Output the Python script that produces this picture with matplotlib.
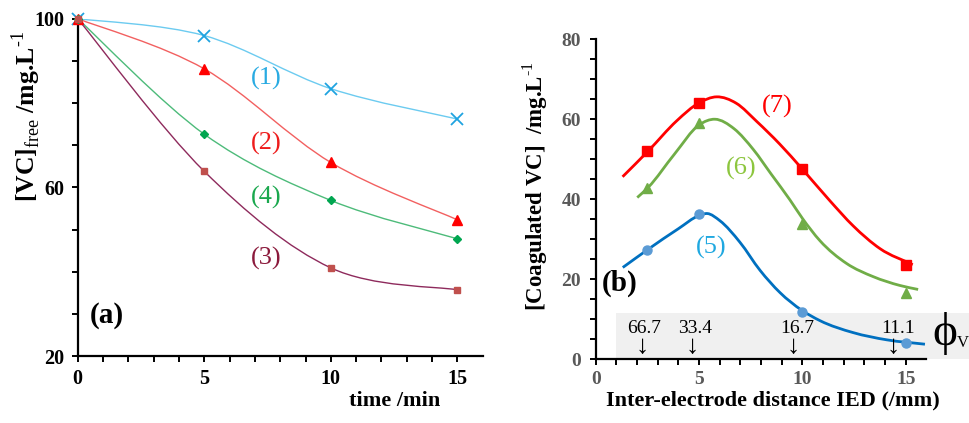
import matplotlib
matplotlib.use("Agg")
import matplotlib.pyplot as plt
from matplotlib.path import Path
from matplotlib.patches import PathPatch, Rectangle
import numpy as np

plt.rcParams['font.family'] = ['Liberation Serif', 'DejaVu Serif']
plt.rcParams['mathtext.fontset'] = 'custom'
plt.rcParams['mathtext.rm'] = 'Liberation Serif'
plt.rcParams['mathtext.bf'] = 'Liberation Serif:bold'

# ---------------- data: panel (a) ----------------
time_min = [0, 5, 10, 15]
vc1 = [100, 96.0, 83.4, 76.2]
vc2 = [100, 88.1, 65.9, 52.3]
vc4 = [100, 72.6, 56.9, 47.8]
vc3 = [100, 63.8, 40.9, 35.7]
labels_a = ['(1)', '(2)', '(4)', '(3)']

# ---------------- data: panel (b) ----------------
ied_mm = [2.5, 5, 10, 15]
coag5 = [27.4, 36.2, 11.8, 3.9]
coag6 = [42.8, 59.0, 33.9, 16.4]
coag7 = [52.1, 64.0, 47.5, 23.5]
labels_b = ['(5)', '(6)', '(7)']

# fitted trend curves
fit7_x = [1.3, 2.55, 3.92, 5.0, 5.85, 6.8, 7.8, 8.9, 10.0, 11.33, 12.46, 13.76, 15.34]
fit7_y = [45.6, 52.1, 59.6, 64.1, 65.6, 64.0, 59.4, 53.8, 47.5, 39.6, 33.3, 27.6, 23.6]
fit6_x = [2.01, 2.55, 3.8, 5.01, 5.77, 6.7, 7.63, 8.5, 9.4, 10.0, 10.85, 12.14, 13.43, 14.72, 15.6]
fit6_y = [40.4, 43.0, 51.2, 58.6, 60.0, 57.6, 52.4, 46.2, 39.8, 35.2, 29.6, 23.9, 20.6, 18.4, 17.4]
fit5_x = [1.31, 2.55, 4.0, 5.0, 5.4, 6.01, 6.98, 7.95, 8.92, 9.97, 10.85, 12.46, 14.08, 15.93]
fit5_y = [22.9, 27.5, 32.6, 35.9, 36.4, 34.6, 29.2, 22.2, 16.6, 12.2, 9.6, 6.6, 4.8, 3.7]

phi_values = ['66.7', '33.4', '16.7', '11.1']
phi_ied = [2.32, 4.83, 9.76, 14.61]
arrow_ied = [2.27, 4.67, 9.56, 14.37]


def catmull_patch(xs, ys, color, lw, zorder=2):
    """Excel-like smoothed line through the given points (Bezier path)."""
    P = np.column_stack([xs, ys]).astype(float)
    n = len(P)
    verts = [P[0]]
    codes = [Path.MOVETO]
    for i in range(n - 1):
        p0 = P[i - 1] if i > 0 else P[i]
        p1 = P[i]
        p2 = P[i + 1]
        p3 = P[i + 2] if i + 2 < n else P[i + 1]
        c1 = p1 + (p2 - p0) / 6.0
        c2 = p2 - (p3 - p1) / 6.0
        verts += [c1, c2, p2]
        codes += [Path.CURVE4] * 3
    return PathPatch(Path(verts, codes), facecolor='none', edgecolor=color,
                     lw=lw, zorder=zorder, capstyle='butt')


def hermite_patch(xs, ys, color, lw, zorder=2):
    """Smooth y(x) curve through points using Hermite slopes, drawn as a Bezier path."""
    x = np.asarray(xs, float)
    y = np.asarray(ys, float)
    n = len(x)
    h = np.diff(x)
    d = np.diff(y) / h
    m = np.empty(n)
    m[0] = d[0]
    m[-1] = d[-1]
    for i in range(1, n - 1):
        m[i] = (d[i] * h[i - 1] + d[i - 1] * h[i]) / (h[i - 1] + h[i])
    verts = [(x[0], y[0])]
    codes = [Path.MOVETO]
    for i in range(n - 1):
        dx = h[i] / 3.0
        verts += [(x[i] + dx, y[i] + m[i] * dx), (x[i + 1] - dx, y[i + 1] - m[i + 1] * dx),
                  (x[i + 1], y[i + 1])]
        codes += [Path.CURVE4] * 3
    return PathPatch(Path(verts, codes), facecolor='none', edgecolor=color,
                     lw=lw, zorder=zorder, capstyle='butt')


W, H = 970, 423
fig = plt.figure(figsize=(W / 100, H / 100), dpi=100)

# ---------------- panel (a) ----------------
axa = fig.add_axes([77.7 / W, 1 - 356 / H, 405 / W, (356 - 18.7) / H])
axa.set_xlim(0, 16)
axa.set_ylim(20, 100)
for s in ['top', 'right']:
    axa.spines[s].set_visible(False)
for s in ['left', 'bottom']:
    axa.spines[s].set_linewidth(1.6)
axa.set_xticks([0, 5, 10, 15])
axa.set_xticks(np.arange(0, 16, 1), minor=True)
axa.set_yticks([20, 60, 100])
axa.set_yticks(np.arange(20, 101, 10), minor=True)
axa.tick_params(which='both', direction='out', width=1.4, length=4.5, colors='black')
axa.tick_params(axis='x', which='major', pad=5)
axa.tick_params(axis='y', which='major', pad=5)
for lab in axa.get_xticklabels() + axa.get_yticklabels():
    lab.set_fontweight('bold')
    lab.set_fontsize(14.5)

series_a = [
    (vc1, '#6ccbf0', '#1fa3e0', 'x', 8, 1.3, '#29abe2'),
    (vc2, '#f26060', '#ff0000', '^', 7, 0, '#ee1c1c'),
    (vc4, '#4dbb7a', '#00a650', 'D', 4.5, 0, '#1aa84e'),
    (vc3, '#8e2a5c', '#c0504d', 's', 5, 0, '#8b1a3c'),
]
for vals, lc, mc, mk, ms, mew, tc in series_a:
    axa.add_patch(catmull_patch(time_min, vals, lc, 1.0))
    if mk == 'x':
        axa.plot(time_min, vals, ls='none', marker=mk, ms=ms, mew=mew, color=mc, zorder=3, clip_on=False)
    else:
        axa.plot(time_min, vals, ls='none', marker=mk, ms=ms, mec=mc, mfc=mc, zorder=3, clip_on=False)

lab_pos_a = [(7.44, 85.8), (7.44, 70.5), (7.44, 57.6), (7.44, 43.2)]
for (x, y), txt, s in zip(lab_pos_a, labels_a, series_a):
    axa.text(x, y, txt, color=s[6], fontsize=19, ha='center', va='center')

axa.text(1.14, 29.7, '(a)', fontsize=21, fontweight='bold', ha='center', va='center')
fig.text(395 / W, 1 - 401 / H, 'time /min', fontsize=16, fontweight='bold', ha='center', va='center')
fig.text(26 / W, 1 - 116.5 / H, r'[VC]$_{\mathrm{free}}$ /mg.L$^{\text{-1}}$', fontsize=18.5,
         fontweight='bold', rotation=90, ha='center', va='center')

# ---------------- panel (b) ----------------
axb = fig.add_axes([595.7 / W, 1 - 359 / H, 330.7 / W, (359 - 39.3) / H])
axb.set_facecolor('none')
axb.set_xlim(0, 16)
axb.set_ylim(0, 80)
for s in ['top', 'right']:
    axb.spines[s].set_visible(False)
for s in ['left', 'bottom']:
    axb.spines[s].set_linewidth(1.6)
axb.set_xticks([0, 5, 10, 15])
axb.set_xticks(np.arange(0, 16, 1), minor=True)
axb.set_yticks([0, 20, 40, 60, 80])
axb.set_yticks(np.arange(0, 81, 5), minor=True)
axb.tick_params(which='both', direction='out', width=1.4, length=4.5, colors='black',
                labelcolor='#595959')
axb.tick_params(axis='x', which='major', pad=4)
axb.tick_params(axis='y', which='major', pad=6)
for lab in axb.get_xticklabels() + axb.get_yticklabels():
    lab.set_fontweight('bold')
    lab.set_fontsize(14)

# grey phi_V band (figure-level artist placed in panel-(b) data coordinates)
band = Rectangle((1.0, 0), 17.3, 11.4, facecolor='#f0f0f0', edgecolor='none',
                 transform=axb.transData, zorder=-1)
fig.add_artist(band)

axb.add_patch(hermite_patch(fit7_x, fit7_y, '#ff0000', 2.0))
axb.add_patch(hermite_patch(fit6_x, fit6_y, '#70ad47', 2.0))
axb.add_patch(hermite_patch(fit5_x, fit5_y, '#0070c0', 2.0))
axb.plot(ied_mm, coag7, ls='none', marker='s', ms=7, color='#ff0000', zorder=4, clip_on=False)
axb.plot(ied_mm, coag6, ls='none', marker='^', ms=7, color='#70ad47', zorder=4, clip_on=False)
axb.plot(ied_mm, coag5, ls='none', marker='o', ms=6.5, color='#5b9bd5', zorder=4, clip_on=False)

axb.text(5.61, 27.9, labels_b[0], color='#1fa8e0', fontsize=19, ha='center', va='center')
axb.text(7.06, 47.8, labels_b[1], color='#8dc63f', fontsize=19, ha='center', va='center')
axb.text(8.76, 63.3, labels_b[2], color='#ff0000', fontsize=19, ha='center', va='center')
axb.text(1.18, 19.0, '(b)', fontsize=21, fontweight='bold', ha='center', va='center')

for v, xv in zip(phi_values, phi_ied):
    axb.text(xv, 7.7, v, fontsize=14, ha='center', va='center', zorder=5)
for xa in arrow_ied:
    axb.text(xa, 2.9, '\u2193', fontsize=19, ha='center', va='center', zorder=5)
axb.text(16.9, 6.5, '\u03d5', fontsize=34, ha='center', va='center', clip_on=False,
         family=['Liberation Serif', 'DejaVu Serif'])
axb.text(17.75, 4.0, 'V', fontsize=12, ha='center', va='center', clip_on=False)

fig.text(772.5 / W, 1 - 400 / H, 'Inter-electrode distance IED (/mm)', fontsize=16,
         fontweight='bold', ha='center', va='center')
fig.text(535 / W, 1 - 186 / H, r'[Coagulated VC]  /mg.L$^{\text{-1}}$', fontsize=16.5,
         fontweight='bold', rotation=90, ha='center', va='center')

fig.savefig('out.png', dpi=100, facecolor='white')
